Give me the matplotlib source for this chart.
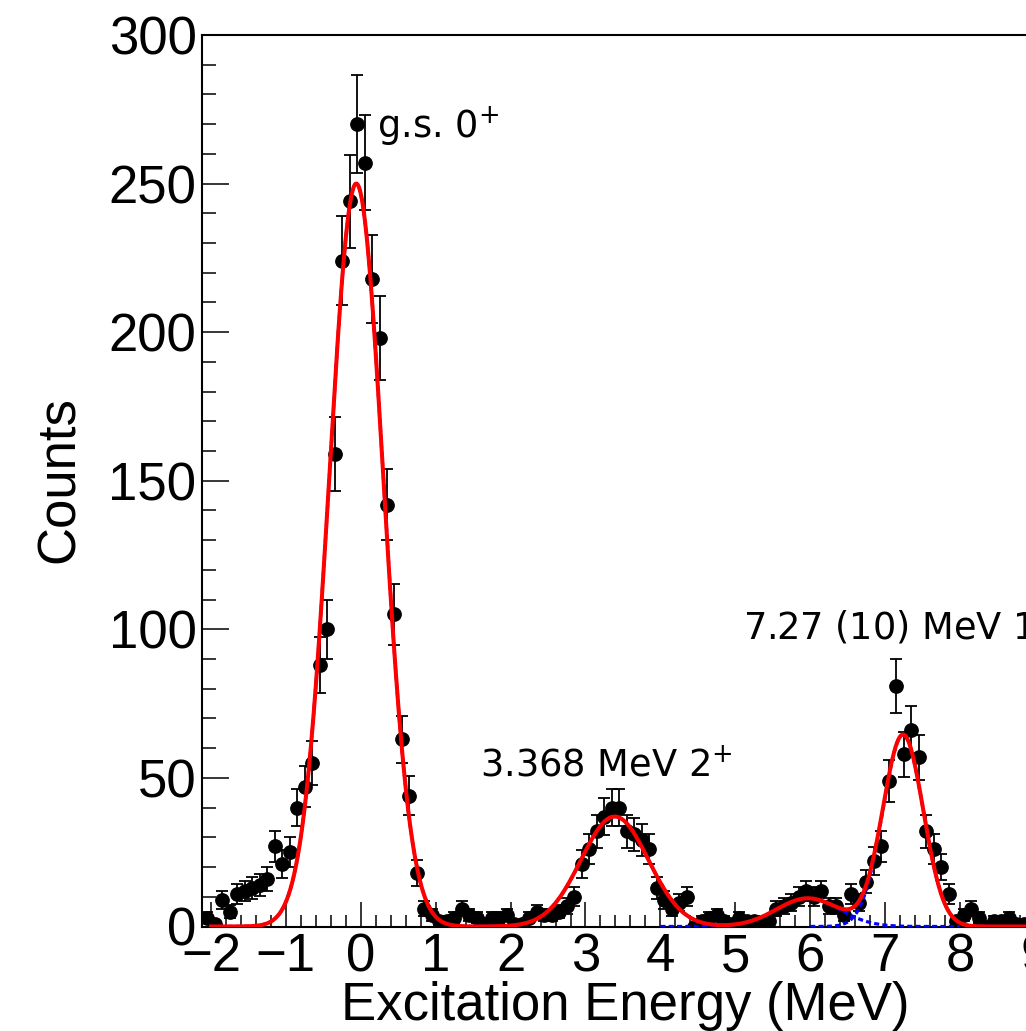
import numpy as np
import matplotlib
matplotlib.use('Agg')
import matplotlib.pyplot as plt
from matplotlib.ticker import MultipleLocator

# 直方图: 每个 bin 0.1 MeV, 从 -2.1 MeV 开始
bin_low = -2.1
bin_width = 0.1
counts = [3, 1, 9, 5, 11, 12, 13, 14, 16, 27,
          21, 25, 40, 47, 55, 88, 100, 159, 224, 244,
          270, 257, 218, 198, 142, 105, 63, 44, 18, 6,
          4, 2, 2, 3, 6, 4, 3, 1, 3, 3,
          4, 1, 1, 3, 5, 4, 4, 5, 7, 10,
          21, 26, 32, 37, 40, 40, 32, 31, 29, 26,
          13, 9, 6, 8, 10, 0, 2, 3, 4, 2,
          1, 3, 2, 2, 1, 2, 6, 7, 8, 10,
          12, 10, 12, 7, 7, 4, 11, 8, 15, 22,
          27, 49, 81, 58, 66, 57, 32, 26, 20, 11,
          2, 4, 6, 3, 0, 2, 2, 3, 1, 1]

# 高斯拟合参数
peak_mu = [-0.06, 3.39, 5.97, 7.24]
peak_sigma = [0.36, 0.45, 0.42, 0.27]
peak_amp = [250.0, 37.0, 9.5, 64.5]
comp_range = [(-2.0, 2.0), (1.5, 5.0), (4.0, 8.0), (6.0, 10.0)]
fit_range = (-2.0, 10.0)

# 峰的标注
labels = [r"g.s. 0$^{+}$", r"3.368 MeV 2$^{+}$", r"7.27 (10) MeV 1$^{-}$"]
label_x = [0.22, 1.59, 5.10]
label_y = [265.5, 50.5, 96.8]


def gauss(x, a, mu, s):
    return a * np.exp(-0.5 * ((x - mu) / s) ** 2)


W, H = 1026, 1031
fig = plt.figure(figsize=(W / 100, H / 100), dpi=100)

x_min, x_max = -2.12, 9.6
px_per_mev = 74.9
ax_left, ax_bottom, ax_top = 202, 926.5, 35
ax_right = ax_left + (x_max - x_min) * px_per_mev
ax = fig.add_axes([ax_left / W, (H - ax_bottom) / H,
                   (ax_right - ax_left) / W, (ax_bottom - ax_top) / H])

counts = np.array(counts, dtype=float)
centers = bin_low + bin_width * (np.arange(len(counts)) + 0.5)

# 数据点 + 误差棒
ax.errorbar(centers, counts, yerr=np.sqrt(counts), fmt='o', color='black',
            ms=9.6, elinewidth=1.3, capsize=4.5, capthick=1.3, zorder=2)

# 各个分量 (蓝色虚线)
for a, mu, s, (lo, hi) in zip(peak_amp, peak_mu, peak_sigma, comp_range):
    xc = np.linspace(lo, hi, 400)
    ax.plot(xc, gauss(xc, a, mu, s), color='blue', ls=(0, (1.6, 1.0)),
            lw=2.3, zorder=3)

# 总拟合 (红线)
xf = np.linspace(fit_range[0], fit_range[1], 1500)
total = sum(gauss(xf, a, mu, s) for a, mu, s in zip(peak_amp, peak_mu, peak_sigma))
ax.plot(xf, total, color='red', lw=2.9, zorder=4)

for txt, lx, ly in zip(labels, label_x, label_y):
    ax.text(lx, ly, txt, fontsize=26.5, family='DejaVu Sans', va='baseline',
            ha='left', clip_on=False)

ax.set_xlim(x_min, x_max)
ax.set_ylim(0, 300)

ax.xaxis.set_major_locator(MultipleLocator(1))
ax.xaxis.set_minor_locator(MultipleLocator(0.2))
ax.yaxis.set_major_locator(MultipleLocator(50))
ax.yaxis.set_minor_locator(MultipleLocator(10))

ax.tick_params(which='both', direction='in', top=False, right=False,
               width=1.1, colors='black')
ax.tick_params(axis='x', which='major', length=18, pad=4)
ax.tick_params(axis='x', which='minor', length=8.6)
ax.tick_params(axis='y', which='major', length=19.4, pad=4)
ax.tick_params(axis='y', which='minor', length=10)

for lab in ax.get_xticklabels() + ax.get_yticklabels():
    lab.set_fontfamily('Liberation Sans')
    lab.set_fontsize(38)

for sp in ax.spines.values():
    sp.set_linewidth(1.5)

fig.text(625 / W, 1 - 1020 / H, "Excitation Energy (MeV)", fontsize=38,
         family='Liberation Sans', ha='center', va='baseline')
fig.text(60 / W, 1 - 480 / H, "Counts", fontsize=38, family='Liberation Sans',
         ha='center', va='center', rotation=90)

fig.savefig('out.png', dpi=100)
